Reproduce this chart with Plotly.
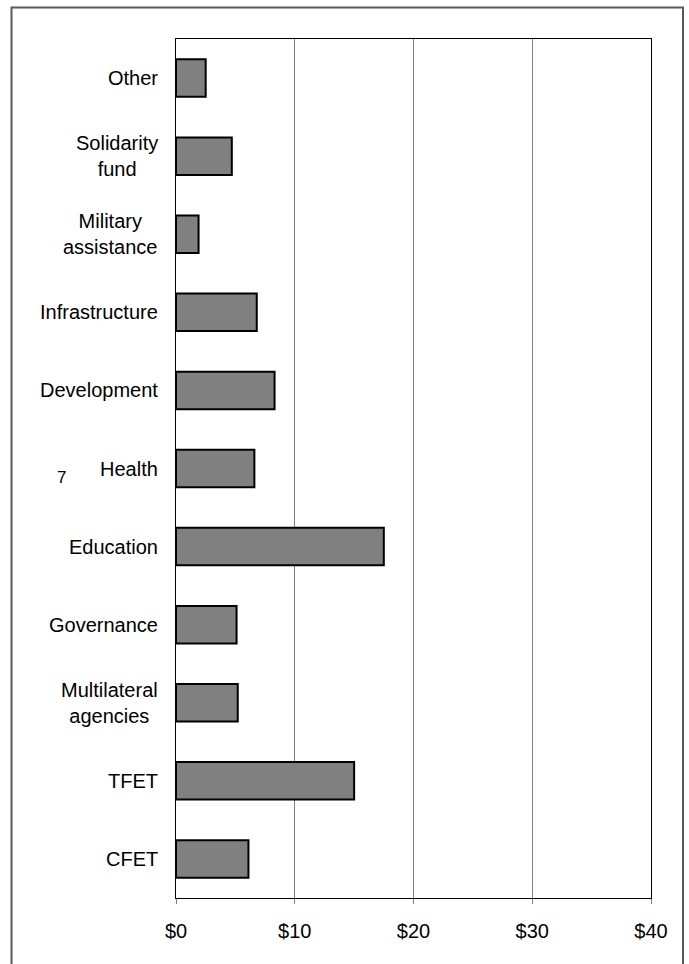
import plotly.graph_objects as go

# Spending by category, bottom to top (US$ millions)
categories = [
    "CFET",
    "TFET",
    "Multilateral<br>agencies",
    "Governance",
    "Education",
    "Health",
    "Development",
    "Infrastructure",
    "Military<br>assistance",
    "Solidarity<br>fund",
    "Other",
]
values = [6.1, 15.0, 5.2, 5.1, 17.5, 6.6, 8.3, 6.8, 1.9, 4.7, 2.5]

tick_vals = [0, 10, 20, 30, 40]
tick_text = ["$0", "$10", "$20", "$30", "$40"]

W, H = 689, 964
ML, MR, MT, MB = 176, 38, 39, 66
PW, PH = W - ML - MR, H - MT - MB
FONT = "Liberation Sans, Arial, sans-serif"

fig = go.Figure(
    go.Bar(
        x=values,
        y=categories,
        orientation="h",
        width=0.48,
        marker=dict(color="#808080", line=dict(color="#000000", width=2)),
        hoverinfo="x+y",
    )
)

fig.update_layout(
    width=W,
    height=H,
    margin=dict(l=ML, r=MR, t=MT, b=MB),
    paper_bgcolor="white",
    plot_bgcolor="white",
    showlegend=False,
    font=dict(family=FONT, size=20, color="#000000"),
)

fig.update_xaxes(
    range=[0, 40],
    tickvals=tick_vals,
    ticktext=tick_text,
    showgrid=True,
    gridcolor="#808080",
    gridwidth=1,
    zeroline=False,
    showline=True,
    linecolor="#000000",
    linewidth=1,
    mirror=True,
    ticks="outside",
    ticklen=5,
    tickcolor="#808080",
    ticklabelstandoff=10,
    fixedrange=True,
)

fig.update_yaxes(
    range=[-0.5, len(categories) - 0.5],
    showgrid=False,
    zeroline=False,
    showline=True,
    linecolor="#000000",
    linewidth=1,
    mirror=True,
    ticks="",
    showticklabels=False,
    fixedrange=True,
)

# Category labels: right-aligned block, lines centred within it
for cat in categories:
    fig.add_annotation(
        text=cat,
        xref="paper", yref="y",
        x=(160 - ML) / PW,
        y=cat,
        xanchor="right",
        yanchor="middle",
        align="center",
        showarrow=False,
        font=dict(family=FONT, size=20, color="#000000"),
    )

# Outer chart frame (open at the bottom edge of the page)
fig.add_shape(
    type="rect",
    xref="paper", yref="paper",
    x0=(11.5 - ML) / PW,
    x1=(683 - ML) / PW,
    y0=(H - MB - 975) / PH,
    y1=(H - MB - 7.5) / PH,
    line=dict(color="#595959", width=2),
    layer="below",
)

# Stray glyph left of the Health label
fig.add_annotation(
    text="7",
    xref="paper", yref="y",
    x=(55 - ML) / PW,
    y=categories[5],
    yshift=-9,
    showarrow=False,
    font=dict(family=FONT, size=17, color="#000000"),
)

fig.write_html("out.html")
